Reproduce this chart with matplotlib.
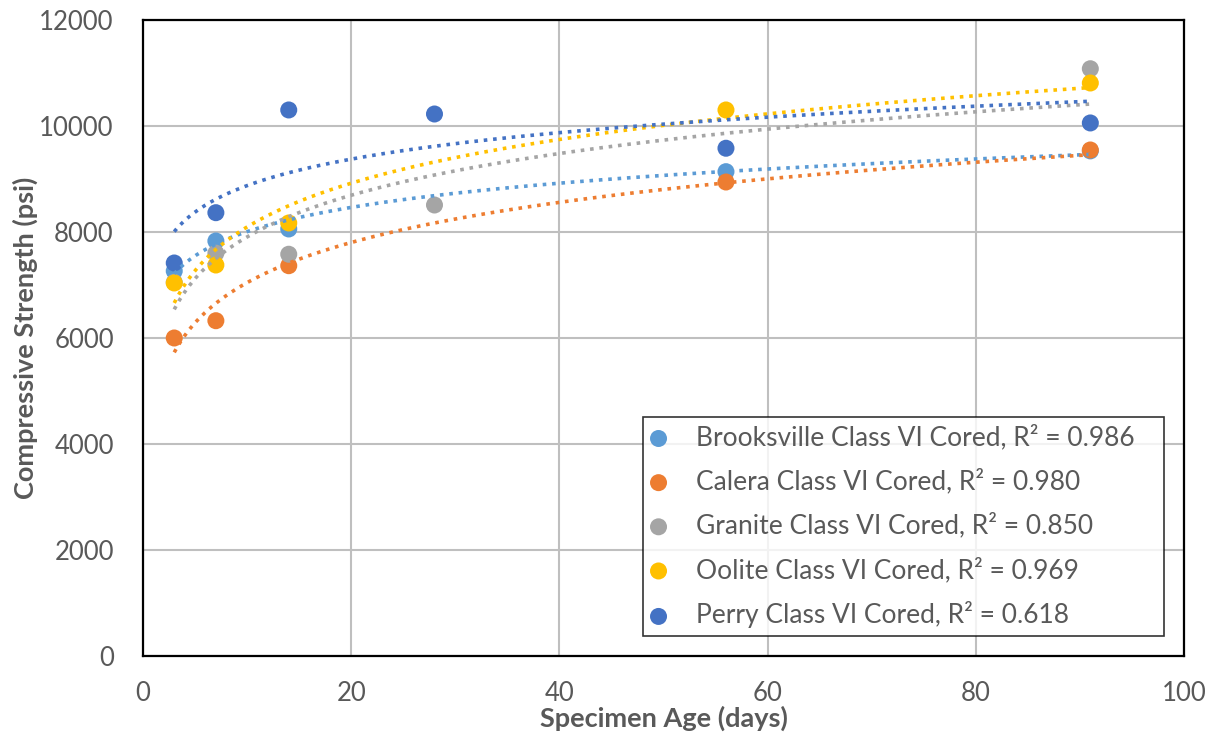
import matplotlib
matplotlib.use("Agg")
import matplotlib.pyplot as plt
import numpy as np

# specimen age (days) and compressive strength (psi)
brooksville_days = [3, 7, 14, 56, 91]
brooksville_psi = [7264, 7830, 8057, 9138, 9530]

calera_days = [3, 7, 14, 56, 91]
calera_psi = [6000, 6326, 7364, 8943, 9547]

granite_days = [3, 7, 14, 28, 91]
granite_psi = [7050, 7600, 7580, 8509, 11080]

oolite_days = [3, 7, 14, 56, 91]
oolite_psi = [7038, 7377, 8170, 10302, 10811]

perry_days = [3, 7, 14, 28, 56, 91]
perry_psi = [7415, 8364, 10302, 10226, 9580, 10057]

series_labels = [
    "Brooksville Class VI Cored, R² = 0.986",
    "Calera Class VI Cored, R² = 0.980",
    "Granite Class VI Cored, R² = 0.850",
    "Oolite Class VI Cored, R² = 0.969",
    "Perry Class VI Cored, R² = 0.618",
]
series_colors = ["#5B9BD5", "#ED7D31", "#A5A5A5", "#FFC000", "#4472C4"]

plt.rcParams["font.family"] = ["Lato", "DejaVu Sans"]
text_color = "#595959"

fig = plt.figure(figsize=(12.14, 7.37), dpi=100)
ax = fig.add_axes([0.1178, 0.1099, 0.8575, 0.8630])

series = [
    (brooksville_days, brooksville_psi),
    (calera_days, calera_psi),
    (granite_days, granite_psi),
    (oolite_days, oolite_psi),
    (perry_days, perry_psi),
]

for (days, psi), label, color in zip(series, series_labels, series_colors):
    days = np.asarray(days, dtype=float)
    psi = np.asarray(psi, dtype=float)
    ax.scatter(days, psi, s=150, color=color, label=label, zorder=3,
               edgecolors="none")
    # logarithmic trendline, like Excel's
    slope, intercept = np.polyfit(np.log(days), psi, 1)
    xs = np.linspace(days.min(), days.max(), 300)
    ax.plot(xs, slope * np.log(xs) + intercept, color=color,
            linestyle=(0, (1, 1.6)), linewidth=2.6, zorder=4)

ax.set_xlim(0, 100)
ax.set_ylim(0, 12000)
ax.set_xticks(range(0, 101, 20))
ax.set_yticks(range(0, 12001, 2000))
ax.grid(True, color="#bfbfbf", linewidth=1.5)
ax.set_axisbelow(True)
for spine in ax.spines.values():
    spine.set_color("black")
    spine.set_linewidth(1.6)
ax.tick_params(length=0, labelsize=18.5, labelcolor=text_color)
ax.tick_params(axis="x", pad=18)
ax.tick_params(axis="y", pad=21)

ax.set_xlabel("Specimen Age (days)", fontsize=19.5, fontweight="bold",
              color=text_color, labelpad=0)
ax.set_ylabel("Compressive Strength (psi)", fontsize=19.5, fontweight="bold",
              color=text_color, labelpad=1)

leg = ax.legend(loc="lower left", bbox_to_anchor=(0.480, 0.031, 0.501, 0.343),
                mode="expand", fontsize=19, frameon=True, fancybox=False,
                handletextpad=1.12, borderpad=0.3, labelspacing=0.70,
                handlelength=0.6, borderaxespad=0)
leg.get_frame().set_edgecolor("black")
leg.get_frame().set_linewidth(1.2)
for text in leg.get_texts():
    text.set_color(text_color)

plt.savefig("out.png", dpi=100)
plt.close()
